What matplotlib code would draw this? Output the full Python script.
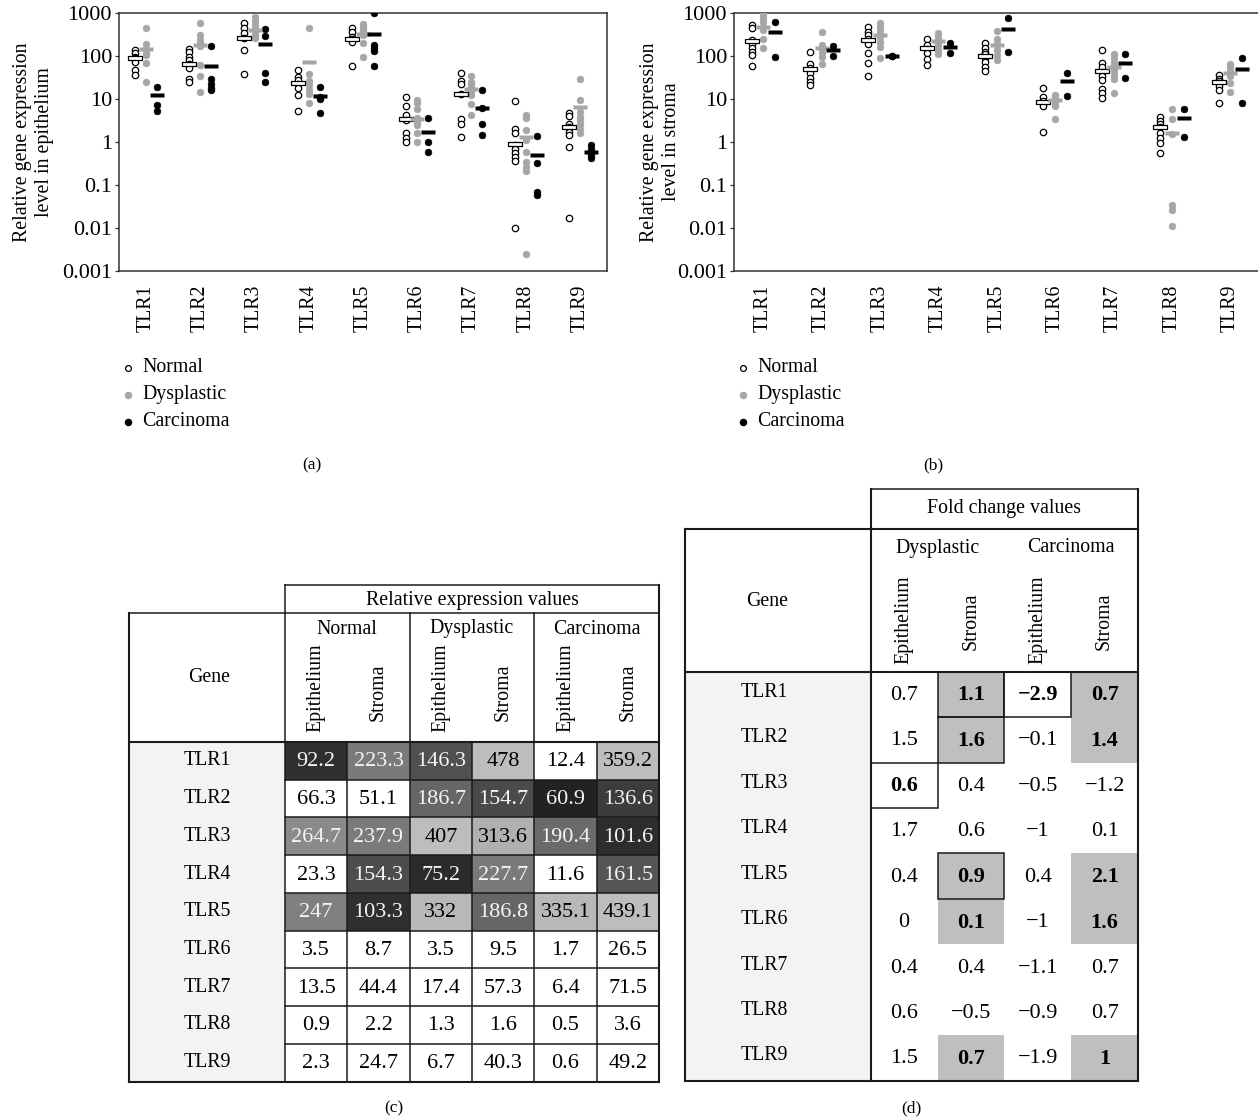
import numpy as np
import matplotlib
matplotlib.use('Agg')
import matplotlib.pyplot as plt
from matplotlib.patches import Rectangle

plt.rcParams['font.family'] = ['Liberation Serif', 'DejaVu Serif']

genes = ['TLR1', 'TLR2', 'TLR3', 'TLR4', 'TLR5', 'TLR6', 'TLR7', 'TLR8', 'TLR9']

# individual samples, epithelium (panel a)
epi_normal = [
    [140, 118, 95, 90, 73, 48, 36],
    [150, 125, 97, 80, 66, 52, 30, 25],
    [580, 450, 340, 260, 140, 38],
    [48, 33, 28, 22, 18, 12.5, 5.3],
    [450, 360, 285, 250, 210, 59],
    [11, 7, 4.2, 3.2, 1.6, 1.25, 1.0],
    [40, 26, 22, 13, 3.5, 2.6, 1.3],
    [9.2, 2.0, 1.6, 0.85, 0.7, 0.55, 0.44, 0.36, 0.01],
    [4.8, 4.0, 2.6, 2.2, 1.7, 1.45, 0.78, 0.017],
]
epi_dysplastic = [
    [460, 190, 145, 120, 105, 68, 25],
    [600, 310, 240, 200, 170, 62, 35, 14.5],
    [830, 670, 530, 420, 360, 310, 260],
    [450, 38, 26, 21, 16, 13, 8.2],
    [550, 490, 430, 370, 320, 200, 97],
    [9.5, 8, 6, 3.6, 3, 2.5, 1.6, 1.0],
    [35, 25, 21, 18, 15.5, 12.5, 7.6, 4.3],
    [4.4, 3.6, 1.9, 1.1, 0.6, 0.35, 0.27, 0.21, 0.0025],
    [30, 9.5, 5.1, 3.9, 3.3, 2.6, 2.0, 1.6],
]
epi_carcinoma = [
    [19, 7.5, 5.2],
    [175, 30, 22, 18, 16],
    [420, 290, 40, 24.5],
    [19, 11.5, 10, 4.7],
    [1000, 180, 158, 130, 59],
    [3.7, 1.0, 0.6],
    [16, 6.2, 2.7, 1.45],
    [1.4, 0.33, 0.07, 0.06],
    [0.85, 0.7, 0.5, 0.42],
]

# individual samples, stroma (panel b)
str_normal = [
    [530, 450, 240, 190, 155, 127, 107, 59],
    [123, 65, 52, 40, 32, 25.5, 21],
    [470, 370, 310, 250, 190, 117, 68, 34.5],
    [250, 182, 150, 117, 85, 62],
    [200, 158, 125, 111, 89, 72, 57, 45],
    [18, 11, 9, 7.7, 6.9, 1.75],
    [140, 70, 57, 44, 34, 28, 17, 13.6, 10.8],
    [3.9, 3.1, 2.6, 2.2, 1.65, 1.25, 0.96, 0.56],
    [36, 30, 26, 24, 20, 16.3, 8.0],
]
str_dysplastic = [
    [960, 760, 640, 490, 410, 250, 153],
    [360, 180, 155, 117, 97, 65],
    [580, 490, 385, 285, 218, 166, 93],
    [340, 275, 220, 182, 140, 112],
    [390, 250, 190, 140, 107, 81],
    [12.5, 11, 9.5, 7.7, 6.9, 3.4],
    [111, 89, 70, 57, 46, 36.5, 29.4, 14.1],
    [5.8, 3.4, 1.55, 0.034, 0.027, 0.011],
    [66, 57, 45, 41, 34.5, 23.4, 15],
]
str_carcinoma = [
    [620, 98],
    [176, 103],
    [103, 100],
    [206, 121],
    [765, 127],
    [40, 11.8],
    [112, 30.5],
    [5.8, 1.35],
    [89, 8.0],
]

# relative expression values (table c, also the bars in a and b)
expr_normal_epi = [92.2, 66.3, 264.7, 23.3, 247, 3.5, 13.5, 0.9, 2.3]
expr_normal_str = [223.3, 51.1, 237.9, 154.3, 103.3, 8.7, 44.4, 2.2, 24.7]
expr_dys_epi = [146.3, 186.7, 407, 75.2, 332, 3.5, 17.4, 1.3, 6.7]
expr_dys_str = [478, 154.7, 313.6, 227.7, 186.8, 9.5, 57.3, 1.6, 40.3]
expr_car_epi = [12.4, 60.9, 190.4, 11.6, 335.1, 1.7, 6.4, 0.5, 0.6]
expr_car_str = [359.2, 136.6, 101.6, 161.5, 439.1, 26.5, 71.5, 3.6, 49.2]

# fold change values (table d)
fc_dys_epi = [0.7, 1.5, 0.6, 1.7, 0.4, 0, 0.4, 0.6, 1.5]
fc_dys_str = [1.1, 1.6, 0.4, 0.6, 0.9, 0.1, 0.4, -0.5, 0.7]
fc_car_epi = [-2.9, -0.1, -0.5, -1, 0.4, -1, -1.1, -0.9, -1.9]
fc_car_str = [0.7, 1.4, -1.2, 0.1, 2.1, 1.6, 0.7, 0.7, 1]

# cell shading of table c (styling)
expr_shade = [
    ['#2e302f', '#7a7a7a', '#505050', '#bdbdbd', '#ffffff', '#bdbdbd'],
    ['#ffffff', '#ffffff', '#666666', '#4a4a4a', '#222222', '#3c3c3c'],
    ['#8a8a8a', '#7a7a7a', '#bdbdbd', '#b0b0b0', '#6a6a6a', '#2d2d2d'],
    ['#ffffff', '#4d4d4d', '#2b2b2b', '#7a7a7a', '#ffffff', '#555555'],
    ['#808080', '#2f2f2f', '#b8b8b8', '#666666', '#b8b8b8', '#bdbdbd'],
] + [['#ffffff'] * 6] * 4
# table d highlighting (row, col)
fc_grey = [(0, 1), (1, 1), (0, 3), (1, 3), (4, 1), (5, 1), (4, 3), (5, 3), (8, 1), (8, 3)]
fc_boxed = [(0, 1), (1, 1), (0, 2), (2, 0), (4, 1)]

W, H = 1258, 1120
fig = plt.figure(figsize=(W / 100, H / 100), dpi=100)
FS = 14.3     # words
FN = 16       # numbers
GREY = '#a6a6a6'


def px_axes(x0, y0, x1, y1):
    return fig.add_axes([x0 / W, 1 - y1 / H, (x1 - x0) / W, (y1 - y0) / H])


bar_n = [(-1, -0.32), (1, -0.32), (1, 0.32), (-1, 0.32), (-1, -0.32)]
bar_g = [(-1, -0.22), (1, -0.22), (1, 0.22), (-1, 0.22), (-1, -0.22)]


def panel(ax, normal, dys, car, med_n, med_d, med_c, ylabel, label_x):
    off = 0.2
    for i in range(len(genes)):
        ax.plot([i - off] * len(normal[i]), normal[i], 'o', ls='none', mfc='white', mec='black',
                ms=4.6, mew=0.9, zorder=3)
        ax.plot([i] * len(dys[i]), dys[i], 'o', ls='none', mfc=GREY, mec=GREY, ms=4.8, mew=0.5, zorder=3)
        ax.plot([i + off] * len(car[i]), car[i], 'o', ls='none', mfc='black', mec='black', ms=4.8,
                mew=0.5, zorder=3)
    x = np.arange(len(genes))
    ax.plot(x - off, med_n, ls='none', marker=bar_n, ms=10, mfc='white', mec='black', mew=0.9, zorder=4)
    ax.plot(x, med_d, ls='none', marker=bar_g, ms=10, mfc=GREY, mec='none', zorder=4)
    ax.plot(x + off, med_c, ls='none', marker=bar_n, ms=10, mfc='black', mec='none', zorder=4)
    ax.set_yscale('log')
    ax.set_ylim(0.001, 1000)
    ax.set_xlim(-0.5, len(genes) - 0.5)
    ax.set_yticks([0.001, 0.01, 0.1, 1, 10, 100, 1000])
    ax.set_yticklabels(['0.001', '0.01', '0.1', '1', '10', '100', '1000'], fontsize=FN)
    ax.yaxis.set_minor_locator(plt.NullLocator())
    ax.set_xticks(x)
    ax.set_xticklabels(genes, rotation=90, fontsize=FS)
    ax.tick_params(axis='x', length=0, pad=10)
    ax.tick_params(axis='y', length=3, width=0.9, pad=2, colors='#333333', labelcolor='black')
    for s in ax.spines.values():
        s.set_color('#333333')
        s.set_linewidth(1.1)
    ax.set_ylabel(ylabel, fontsize=FS, linespacing=1.25)
    ax.yaxis.set_label_coords(label_x, 0.5)


axa = px_axes(119, 13.3, 607, 271)
panel(axa, epi_normal, epi_dysplastic, epi_carcinoma, expr_normal_epi, expr_dys_epi, expr_car_epi,
      'Relative gene expression\nlevel in epithelium', -0.133)
axb = px_axes(734, 13.3, 1259.5, 271)
panel(axb, str_normal, str_dysplastic, str_carcinoma, expr_normal_str, expr_dys_str, expr_car_str,
      'Relative gene expression\nlevel in stroma', -0.1)

# canvas in pixel coordinates for legends, tables, captions
cv = fig.add_axes([0, 0, 1, 1])
cv.set_xlim(0, W)
cv.set_ylim(H, 0)
cv.axis('off')
cv.patch.set_visible(False)

for lx in (128, 743):
    cv.plot(lx, 368, 'o', mfc='white', mec='black', ms=4.2, mew=0.9)
    cv.plot(lx, 395, 'o', mfc=GREY, mec=GREY, ms=4.4)
    cv.plot(lx, 422, 'o', mfc='black', mec='black', ms=4.4)
    for yy, t in zip((368, 395, 422), ('Normal', 'Dysplastic', 'Carcinoma')):
        cv.text(lx + 14, yy, t, fontsize=FS, va='center', ha='left')

for t, xx, yy in (('(a)', 312, 465), ('(b)', 933, 465), ('(c)', 394, 1108), ('(d)', 911, 1108)):
    cv.text(xx, yy, t, fontsize=12.5, ha='center', va='center')


def line(x0, y0, x1, y1, lw=1.1):
    cv.plot([x0, x1], [y0, y1], color='#1a1a1a', lw=lw, solid_capstyle='projecting', zorder=5)


def fmt(v):
    return f'{v:g}'.replace('-', '\u2212')


# ---- table (c) ----
cx0, cx1, cg = 129, 659, 285
ct0, cb0, ch, cbot = 585, 613, 742, 1081.5
cw = (cx1 - cg) / 6
rh = (cbot - ch) / 9
cv.add_patch(Rectangle((cx0, ch), cg - cx0, cbot - ch, fc='#f2f4f3', ec='none', zorder=1))
cols_c = [expr_normal_epi, expr_normal_str, expr_dys_epi, expr_dys_str, expr_car_epi, expr_car_str]
for r in range(len(genes)):
    yc = ch + (r + 0.5) * rh
    cv.text((cx0 + cg) / 2, yc, genes[r], fontsize=FS, ha='center', va='center')
    for j, col in enumerate(cols_c):
        shade = expr_shade[r][j]
        cv.add_patch(Rectangle((cg + j * cw, ch + r * rh), cw, rh, fc=shade, ec='none', zorder=1))
        lum = np.mean(matplotlib.colors.to_rgb(shade))
        cv.text(cg + (j + 0.5) * cw, yc + 1, fmt(col[r]), fontsize=FN, ha='center', va='center',
                color='#f4f4f4' if lum < 0.6 else 'black', zorder=6)
for r in range(1, 9):
    line(cg, ch + r * rh, cx1, ch + r * rh)
for j in range(1, 6):
    line(cg + j * cw, ch, cg + j * cw, cbot)
for j in (2, 4):
    line(cg + j * cw, cb0, cg + j * cw, ch)
line(cg, ct0, cx1, ct0)
line(cg, ct0, cg, cb0)
line(cx0, cb0, cx1, cb0)
line(cx0, ch, cx1, ch, lw=1.5)
line(cg, cb0, cg, cbot)
line(cx0, cb0, cx0, cbot, lw=1.5)
line(cx1, ct0, cx1, cbot, lw=1.5)
line(cx0, cbot, cx1, cbot, lw=1.5)
cv.text((cg + cx1) / 2, 600, 'Relative expression values', fontsize=FS, ha='center', va='center')
cv.text(209, 677, 'Gene', fontsize=FS, ha='center', va='center')
for k, t in enumerate(('Normal', 'Dysplastic', 'Carcinoma')):
    cv.text(cg + (2 * k + 1) * cw, 629, t, fontsize=FS, ha='center', va='center')
    cv.text(cg + (2 * k + 0.5) * cw, 688, 'Epithelium', fontsize=FS, rotation=90, ha='center', va='center')
    cv.text(cg + (2 * k + 1.5) * cw, 692, 'Stroma', fontsize=FS, rotation=90, ha='center', va='center')

# ---- table (d) ----
dx0, dx1, dg = 685, 1138, 870.7
dt0, db0, dh, dbot = 489.3, 529.3, 671.7, 1080.7
dw = (dx1 - dg) / 4
drh = (dbot - dh) / 9
cv.add_patch(Rectangle((dx0, dh), dg - dx0, dbot - dh, fc='#f2f4f3', ec='none', zorder=1))
cols_d = [fc_dys_epi, fc_dys_str, fc_car_epi, fc_car_str]
for (r, j) in fc_grey:
    cv.add_patch(Rectangle((dg + j * dw, dh + r * drh), dw, drh, fc='#bfbfbf', ec='none', zorder=1))
for (r, j) in fc_boxed:
    cv.add_patch(Rectangle((dg + j * dw, dh + r * drh), dw, drh, fc='none', ec='#1a1a1a', lw=1.1, zorder=5))
for r in range(len(genes)):
    yc = dh + (r + 0.5) * drh
    cv.text(764, yc - 2, genes[r], fontsize=FS, ha='center', va='center')
    for j, col in enumerate(cols_d):
        bold = (r, j) in fc_grey or (r, j) in fc_boxed
        cv.text(dg + (j + 0.5) * dw, yc + 1, fmt(col[r]), fontsize=FN, ha='center', va='center',
                weight='bold' if bold else 'normal', zorder=6)
line(dg, dt0, dx1, dt0)
line(dg, dt0, dg, dbot, lw=1.5)
line(dx0, db0, dx1, db0, lw=1.5)
line(dx0, dh, dx1, dh, lw=1.5)
line(dx0, db0, dx0, dbot, lw=1.5)
line(dx1, dt0, dx1, dbot, lw=1.5)
line(dx0, dbot, dx1, dbot, lw=1.5)
cv.text((dg + dx1) / 2, 509, 'Fold change values', fontsize=FS, ha='center', va='center')
cv.text(767, 602, 'Gene', fontsize=FS, ha='center', va='center')
for k, t in enumerate(('Dysplastic', 'Carcinoma')):
    cv.text(dg + (2 * k + 1) * dw, 548, t, fontsize=FS, ha='center', va='center')
    cv.text(dg + (2 * k + 0.5) * dw, 620, 'Epithelium', fontsize=FS, rotation=90, ha='center', va='center')
    cv.text(dg + (2 * k + 1.5) * dw, 621, 'Stroma', fontsize=FS, rotation=90, ha='center', va='center')

fig.savefig('out.png', dpi=100)
